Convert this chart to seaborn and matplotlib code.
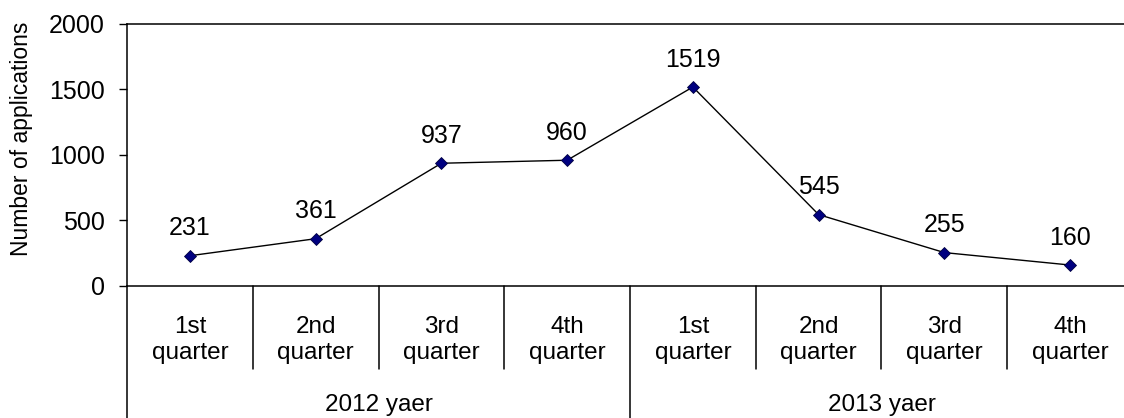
import matplotlib
matplotlib.use("Agg")
import matplotlib.pyplot as plt
import matplotlib.transforms as mtransforms
import numpy as np
import pandas as pd
import seaborn as sns

# Data
quarters = ["1st\nquarter", "2nd\nquarter", "3rd\nquarter", "4th\nquarter",
            "1st\nquarter", "2nd\nquarter", "3rd\nquarter", "4th\nquarter"]
years = ["2012 yaer", "2013 yaer"]
applications = [231, 361, 937, 960, 1519, 545, 255, 160]
y_ticks = [0, 500, 1000, 1500, 2000]

sns.set_style("ticks")
plt.rcParams['font.family'] = ['Liberation Sans', 'DejaVu Sans']
plt.rcParams['text.color'] = 'black'
plt.rcParams['ytick.color'] = 'black'
plt.rcParams['axes.labelcolor'] = 'black'

FS_NUM = 18
FS_TXT = 17.5

df = pd.DataFrame({"pos": np.arange(len(applications)), "value": applications})

fig = plt.figure(figsize=(11.24, 4.18), dpi=100)
ax = fig.add_axes([0.113, 0.3158, 0.895, 0.6268])

sns.lineplot(data=df, x="pos", y="value", ax=ax, color="black", linewidth=1.0,
             marker="D", markersize=6.5, markerfacecolor="#000080",
             markeredgecolor="#000040", markeredgewidth=0.6)

# value labels above points
for i, v in enumerate(applications):
    ax.annotate(str(v), (i, v), xytext=(0, 11), textcoords="offset points",
                ha="center", va="bottom", fontsize=FS_NUM)

ax.set_xlim(-0.5, len(applications) - 0.5)
ax.set_ylim(0, 2000)
ax.set_yticks(y_ticks)
ax.tick_params(axis="y", labelsize=FS_NUM, length=6, width=1, direction="out",
               pad=10, colors="black")
ax.set_xticks([])
ax.set_xlabel("")
ax.set_ylabel("Number of applications", fontsize=16.5)
ax.yaxis.set_label_coords(-0.093, 0.56)

for side in ["top", "left", "bottom"]:
    ax.spines[side].set_visible(True)
    ax.spines[side].set_linewidth(1.1)
    ax.spines[side].set_color("black")
ax.spines["right"].set_visible(False)

# category table below the axis
trans = mtransforms.blended_transform_factory(ax.transData, ax.transAxes)
row1_bottom = -0.317
table_bottom = -0.51
ax.plot([-0.5, -0.5], [0, table_bottom], transform=trans, color="black",
        linewidth=1.1, clip_on=False)
for k in range(1, len(quarters)):
    x = k - 0.5
    y_end = table_bottom if k == 4 else row1_bottom
    ax.plot([x, x], [0, y_end], transform=trans, color="black",
            linewidth=1.1, clip_on=False)

for i, q in enumerate(quarters):
    ax.text(i, -0.206, q, transform=trans, ha="center", va="center",
            fontsize=FS_TXT, linespacing=1.2)

for j, yr in enumerate(years):
    ax.text(1.5 + 4 * j, -0.454, yr, transform=trans, ha="center",
            va="center", fontsize=FS_TXT)

fig.savefig("out.png", dpi=100)
